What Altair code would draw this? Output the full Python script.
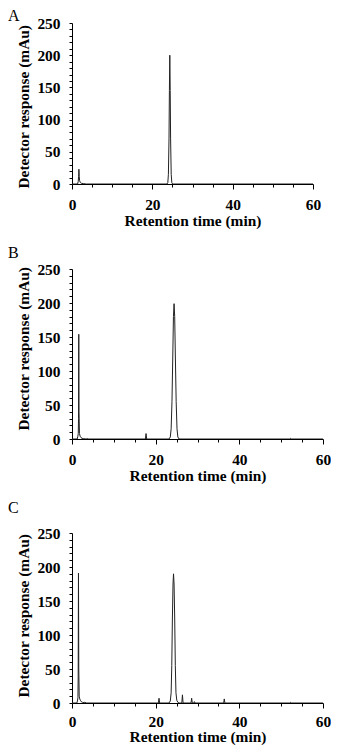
import altair as alt
import pandas as pd

FONT = "Liberation Serif"

# Panel A chromatogram (time in min, response in mAu)
a_time = [0, 1.4, 1.55, 1.65, 1.72, 1.8, 1.9, 2.05, 2.3, 2.8, 3.3, 3.6,
          23.65, 23.85, 24.0, 24.15, 24.25, 24.35, 24.45, 24.55, 24.7, 24.85, 25.05, 60]
a_resp = [0, 0, 4, 12, 23, 12, 5, 2.5, 1.2, 0.6, 0.3, 0,
          0, 2, 15, 70, 145, 200, 145, 70, 15, 2, 0, 0]

# Panel B chromatogram
b_time = [0, 1.25, 1.4, 1.5, 1.56, 1.62, 1.68, 1.78, 1.95, 2.15, 2.4, 2.8, 3.4, 3.6, 3.8,
          17.55, 17.7, 17.85,
          23.2, 23.5, 23.7, 23.9, 24.1, 24.25, 24.4, 24.55, 24.7, 24.9, 25.1, 25.3, 25.6,
          52.1, 52.3, 52.5, 60]
b_resp = [0, 0, 4, 8, 30, 154, 40, 8, 4, 2, 1, 0.5, 0, 1, 0,
          0, 8, 0,
          0, 3, 15, 55, 125, 180, 199, 180, 125, 55, 15, 3, 0,
          0, 1, 0, 0]

# Panel C chromatogram
c_time = [0, 1.15, 1.3, 1.42, 1.48, 1.55, 1.62, 1.72, 1.85, 2.0, 2.2, 2.5, 2.9, 3.1, 3.3,
          20.65, 20.8, 20.95,
          23.2, 23.5, 23.7, 23.85, 24.0, 24.15, 24.27, 24.4, 24.55, 24.7, 24.85, 25.05, 25.3, 25.6,
          26.25, 26.4, 26.55, 28.45, 28.6, 28.75, 29.1, 29.25, 29.4, 36.25, 36.4, 36.55,
          52.1, 52.3, 52.5, 60]
c_resp = [0, 0, 3, 8, 40, 191, 50, 10, 6, 4, 2, 1, 0.5, 1.5, 0,
          0, 7, 0,
          0, 3, 15, 55, 125, 175, 190, 175, 125, 55, 15, 4, 1, 0,
          0, 12, 0, 0, 7, 0, 0, 2, 0, 0, 6, 0,
          0, 1, 0, 0]

x_ticks = [0, 5, 10, 15, 20, 25, 30, 35, 40, 45, 50, 55, 60]
y_ticks = [0, 10, 20, 30, 40, 50, 60, 70, 80, 90, 100, 110, 120, 130, 140, 150,
           160, 170, 180, 190, 200, 210, 220, 230, 240, 250]

X_TITLE = "Retention time (min)"
Y_TITLE = "Detector response (mAu)"


def panel(label, times, resp, w, h, label_y, ytitle_top, lpad, tpad):
    df = pd.DataFrame({"t": times, "v": resp})
    xs = alt.Scale(domain=[0, 60], nice=False, zero=False)
    ys = alt.Scale(domain=[0, 250], nice=False)
    line = alt.Chart(df).mark_line(color="#222222", strokeWidth=1, clip=True).encode(
        x=alt.X("t:Q", scale=xs, axis=alt.Axis(
            values=x_ticks,
            tickSize={"condition": {"test": "datum.value % 20 === 0", "value": 5}, "value": 3},
            labelPadding=lpad, labelFlush=False, labelOverlap=False,
            labelExpr="datum.value % 20 === 0 ? datum.label : ''",
            title=X_TITLE, titlePadding=tpad)),
        y=alt.Y("v:Q", scale=ys, axis=alt.Axis(
            values=y_ticks, tickSize=3, labelPadding=9, labelFlush=False,
            labelOverlap=False, labelExpr="datum.value % 50 === 0 ? datum.label : ''",
            title=None)),
    )
    texts = pd.DataFrame({"panel": [label], "ytitle": [Y_TITLE]})
    tag = alt.Chart(texts).mark_text(
        align="left", baseline="top", font=FONT, fontSize=16, color="black"
    ).encode(text="panel:N", x=alt.value(-64), y=alt.value(label_y))
    ytitle = alt.Chart(texts).mark_text(
        align="right", baseline="bottom", angle=270, font=FONT, fontSize=15.4,
        fontWeight="bold", color="black"
    ).encode(text="ytitle:N", x=alt.value(-40), y=alt.value(ytitle_top))
    return alt.layer(line, tag, ytitle).properties(width=w, height=h)


chart = alt.vconcat(
    panel("A", a_time, a_resp, 241, 161, -15, 2, 8, 1),
    panel("B", b_time, b_resp, 251, 170, -24, -2, 8, 1),
    panel("C", c_time, c_resp, 251, 170, -33, 1, 6, 0),
    spacing=16,
).properties(padding=0).configure_axis(
    labelFont=FONT, labelFontSize=15.4, labelFontWeight="bold", labelColor="black",
    titleFont=FONT, titleFontSize=15.4, titleFontWeight="bold", titleColor="black",
    domainColor="black", tickColor="black", domainWidth=1, tickWidth=1, grid=False,
).configure_view(strokeOpacity=0)

chart.save("out.html", embed_options={"renderer": "svg", "actions": False})
